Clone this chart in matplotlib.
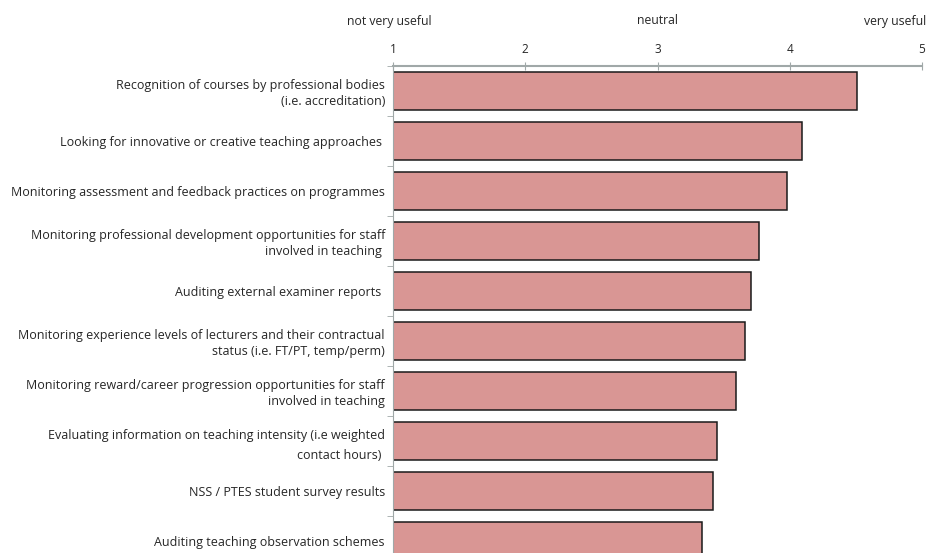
import numpy as np
import matplotlib.pyplot as plt

# data
items = [
    "Recognition of courses by professional bodies\n(i.e. accreditation)",
    "Looking for innovative or creative teaching approaches ",
    "Monitoring assessment and feedback practices on programmes",
    "Monitoring professional development opportunities for staff\ninvolved in teaching ",
    "Auditing external examiner reports ",
    "Monitoring experience levels of lecturers and their contractual\nstatus (i.e. FT/PT, temp/perm)",
    "Monitoring reward/career progression opportunities for staff\ninvolved in teaching",
    "Evaluating information on teaching intensity (i.e weighted\ncontact hours) ",
    "NSS / PTES student survey results",
    "Auditing teaching observation schemes",
]
scores = [4.51, 4.09, 3.98, 3.77, 3.71, 3.66, 3.59, 3.45, 3.42, 3.34]
scale_ticks = [1, 2, 3, 4, 5]
scale_words = ["not very useful", "neutral", "very useful"]
scale_word_pos = [0.97, 3.0, 4.8]

plt.rcParams['font.family'] = ['Open Sans', 'DejaVu Sans']
txt = '#262626'
grey = '#a0a8a8'

fig = plt.figure(figsize=(9.33, 5.53), dpi=100)
ax = fig.add_axes([393/933, (553-566)/553, 529/933, 500/553])

y = np.arange(len(items))
ax.barh(y, np.array(scores) - 1, left=1, height=0.75, color='#d99694',
        edgecolor='#1a1a1a', linewidth=1.1)

ax.set_xlim(1, 5)
ax.set_ylim(len(items) - 0.5, -0.5)
ax.xaxis.tick_top()
ax.set_xticks(scale_ticks)
ax.tick_params(axis='x', direction='inout', length=6, color=grey,
               labelsize=8.5, labelcolor=txt, pad=4.5)

ax.set_yticks(y)
ax.set_yticklabels(items, fontsize=9, color=txt, linespacing=1.25)
ax.get_yticklabels()[7].set_linespacing(1.65)
ax.tick_params(axis='y', length=0, pad=5.8)
ax.set_yticks(np.arange(-0.5, len(items), 1), minor=True)
ax.tick_params(axis='y', which='minor', length=4, color=grey)

for s in ['right', 'bottom']:
    ax.spines[s].set_visible(False)
ax.spines['top'].set_color(grey)
ax.spines['top'].set_linewidth(1.5)
ax.spines['left'].set_color(grey)

# scale words above the tick numbers
for w, p in zip(scale_words, scale_word_pos):
    ax.text(p, 1 + 45/500, w, transform=ax.get_xaxis_transform(),
            ha='center', va='center', fontsize=8.8, color=txt)

fig.savefig('out.png', dpi=100)
